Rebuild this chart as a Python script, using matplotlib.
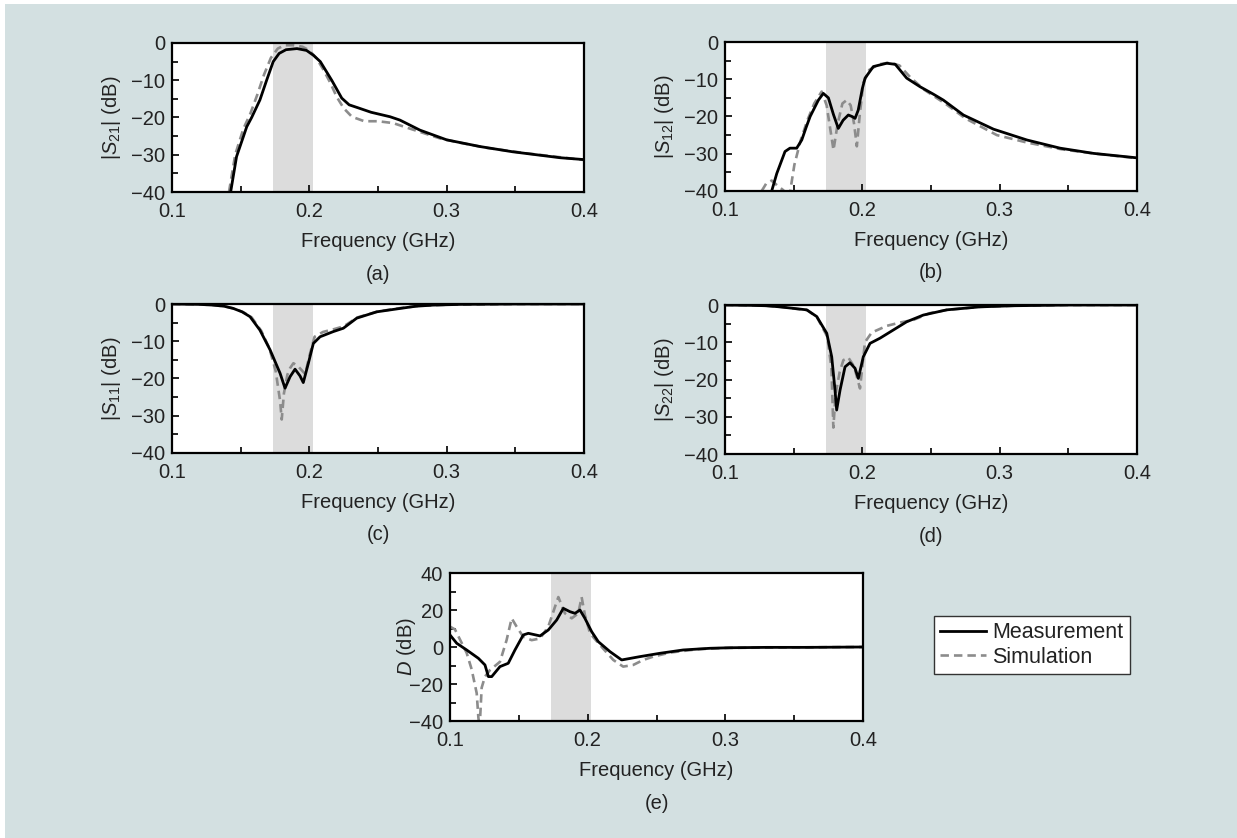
import matplotlib
matplotlib.use("Agg")
import matplotlib.pyplot as plt
from matplotlib.patches import Rectangle

plt.rcParams.update({
    "font.family": ["Liberation Sans", "DejaVu Sans"],
    "mathtext.fontset": "custom",
    "mathtext.rm": "Liberation Sans",
    "mathtext.it": "Liberation Sans:italic",
    "font.size": 14.5,
    "text.color": "#222222",
    "axes.labelcolor": "#222222",
    "xtick.color": "#111111",
    "ytick.color": "#111111",
    "xtick.labelcolor": "#222222",
    "ytick.labelcolor": "#222222",
})

# ---------------- data ----------------
passband = (0.1735, 0.2025)

s21_meas_f = [0.1427, 0.147, 0.1544, 0.158, 0.164, 0.169, 0.1737, 0.178, 0.183, 0.191, 0.198, 0.203,
              0.208, 0.2163, 0.2236, 0.229, 0.2355, 0.245, 0.2588, 0.266, 0.2806, 0.300, 0.3243,
              0.348, 0.3826, 0.4]
s21_meas_db = [-40, -30.5, -22.5, -20, -15.3, -9.9, -5, -2.8, -1.8, -1.5, -2, -3.3,
               -5, -10, -14.8, -16.6, -17.4, -18.6, -19.8, -20.7, -23.4, -26, -27.8,
               -29.2, -30.8, -31.3]
s21_sim_f = [0.1415, 0.146, 0.152, 0.157, 0.162, 0.167, 0.172, 0.177, 0.182, 0.188, 0.195, 0.2,
             0.205, 0.21, 0.215, 0.22, 0.225, 0.231, 0.24, 0.25, 0.261, 0.275, 0.295, 0.31, 0.33,
             0.36, 0.4]
s21_sim_db = [-40, -30, -23, -19, -14, -8.5, -4, -1.5, -0.6, -0.6, -1.0, -2,
              -4, -7, -10.5, -14.5, -17.5, -19.8, -21, -21, -21.5, -23.2, -25.6, -26.8, -28.2,
              -29.7, -31.4]

s12_meas_f = [0.134, 0.1377, 0.1437, 0.1473, 0.1522, 0.1559, 0.159, 0.162, 0.168, 0.1716, 0.1753,
              0.179, 0.1825, 0.186, 0.1898, 0.1925, 0.1947, 0.197, 0.2, 0.202, 0.208, 0.2178,
              0.224, 0.2323, 0.242, 0.2517, 0.259, 0.2736, 0.2955, 0.3198, 0.344, 0.3683, 0.4]
s12_meas_db = [-40, -35.3, -29.4, -28.5, -28.5, -26.3, -23, -20, -15.6, -13.8, -15,
               -19.5, -23.2, -21, -19.6, -20, -20.5, -18.3, -12.5, -9.7, -6.6, -5.7,
               -6, -9.7, -12, -14, -15.6, -19.6, -23.4, -26.3, -28.5, -29.9, -31.1]
s12_sim_f = [0.1267, 0.130, 0.134, 0.138, 0.1425, 0.146, 0.1475, 0.1505, 0.155, 0.160, 0.165,
             0.1704, 0.174, 0.1765, 0.179, 0.182, 0.1855, 0.1886, 0.1915, 0.194, 0.196, 0.198,
             0.2007, 0.205, 0.212, 0.22, 0.227, 0.235, 0.245, 0.2614, 0.275, 0.298, 0.32, 0.345,
             0.37, 0.4]
s12_sim_db = [-40, -38, -37.2, -38.5, -39.8, -42, -40, -33, -26.5, -21, -16.5,
              -13.3, -17, -23, -29, -22, -16.5, -15.6, -17, -22, -28, -20,
              -11, -7.5, -6, -5.5, -6.3, -9.5, -12.8, -16.8, -20.5, -25, -27, -28.8,
              -30, -31.2]

s11_meas_f = [0.1, 0.12, 0.13, 0.138, 0.1447, 0.151, 0.1568, 0.164, 0.1714, 0.1787, 0.1823, 0.186,
              0.1896, 0.1932, 0.1956, 0.1993, 0.2029, 0.2078, 0.2175, 0.2248, 0.2345, 0.2491,
              0.266, 0.2775, 0.29, 0.31, 0.35, 0.4]
s11_meas_db = [0, -0.1, -0.3, -0.6, -1.2, -2.1, -3.4, -7, -12.3, -18.6, -22.6, -19.5,
               -17.5, -19.3, -21.1, -15.9, -10.6, -8.8, -7.4, -6.5, -3.8, -2.1,
               -1.2, -0.6, -0.3, -0.1, 0, 0]
s11_sim_f = [0.1, 0.12, 0.13, 0.138, 0.145, 0.152, 0.158, 0.165, 0.171, 0.1755, 0.1787, 0.1799,
             0.1815, 0.184, 0.186, 0.1884, 0.192, 0.197, 0.2, 0.2038, 0.21, 0.2175, 0.225, 0.235,
             0.25, 0.266, 0.28, 0.3, 0.35, 0.4]
s11_sim_db = [0, -0.1, -0.3, -0.6, -1.2, -2.2, -3.6, -7.2, -12, -18, -26, -31,
              -24, -19, -17.2, -15.9, -16.8, -18.8, -14, -8.8, -7.5, -6.8, -6, -3.6,
              -2, -1.1, -0.5, -0.2, 0, 0]

s22_meas_f = [0.1, 0.12, 0.13, 0.14, 0.1595, 0.1668, 0.1741, 0.1777, 0.1801, 0.1813, 0.1838, 0.1874,
              0.191, 0.1947, 0.1971, 0.2007, 0.2056, 0.2129, 0.2226, 0.2323, 0.2444, 0.2615,
              0.2857, 0.31, 0.35, 0.4]
s22_meas_db = [0, -0.1, -0.2, -0.5, -1.3, -3.1, -7.6, -13.9, -22.8, -28.2, -22.8, -16.6,
               -15.5, -17, -19.7, -13.9, -10.3, -8.9, -6.7, -4.5, -2.7, -1.3,
               -0.5, -0.2, 0, 0]
s22_sim_f = [0.1, 0.12, 0.13, 0.14, 0.16, 0.167, 0.1745, 0.1775, 0.1789, 0.1805, 0.1835, 0.1862,
             0.1898, 0.194, 0.1983, 0.2019, 0.2068, 0.2178, 0.2275, 0.2372, 0.249, 0.262, 0.285,
             0.31, 0.35, 0.4]
s22_sim_db = [0, -0.1, -0.2, -0.5, -1.4, -3.3, -8.5, -17, -32.9, -24, -18, -14.8,
              -14.1, -16.5, -22.4, -10, -7.4, -5.6, -4.7, -4, -2.2, -1.3, -0.5,
              -0.2, 0, 0]

d_meas_f = [0.1, 0.1049, 0.1121, 0.1206, 0.1254, 0.1279, 0.1303, 0.1363, 0.1423, 0.1472, 0.1532,
            0.1569, 0.1654, 0.1714, 0.1775, 0.1823, 0.1871, 0.1908, 0.1944, 0.198, 0.2029,
            0.2077, 0.2162, 0.2247, 0.238, 0.2525, 0.2694, 0.2888, 0.3033, 0.33, 0.36, 0.4]
d_meas_db = [6.5, 2, -1.6, -6.1, -9.7, -16, -16, -10.6, -8.8, -1.6, 6.5,
             7.4, 6, 9.2, 14.6, 20.9, 19.1, 18.2, 20, 15.5, 8.3,
             2.9, -2.5, -7, -5.2, -3.4, -1.6, -0.7, -0.4, -0.2, -0.2, 0]
d_sim_f = [0.1, 0.1036, 0.1121, 0.1157, 0.1194, 0.1206, 0.1215, 0.123, 0.1254, 0.129, 0.1363,
           0.1411, 0.1448, 0.1484, 0.1532, 0.1593, 0.1654, 0.1714, 0.1763, 0.1787, 0.1835,
           0.1884, 0.1932, 0.1956, 0.198, 0.2017, 0.2089, 0.2186, 0.2258, 0.2331, 0.2404,
           0.2476, 0.26, 0.28, 0.3, 0.35, 0.4]
d_sim_db = [11, 9.5, -3.2, -12, -25, -38, -44, -22, -16, -12.5, -8,
            3.7, 15.5, 11, 5.5, 3.7, 4.6, 11, 21.8, 27, 18.2,
            15.5, 18.2, 27, 17.3, 7.4, 1.1, -7, -10.6, -9.7, -7,
            -5.2, -3, -1.2, -0.5, -0.2, 0]

x_ticks = [0.1, 0.2, 0.3, 0.4]
x_tick_labels = ["0.1", "0.2", "0.3", "0.4"]

# ---------------- figure ----------------
W, H = 1237, 838
fig = plt.figure(figsize=(W / 100, H / 100), dpi=100)
fig.patch.set_facecolor("white")
fig.add_artist(Rectangle((5 / W, 0), 1 - 5 / W, 1 - 4 / H, transform=fig.transFigure,
                         facecolor="#d3e0e1", edgecolor="none", zorder=-10))

MEAS = dict(color="black", lw=2.0, solid_joinstyle="round", zorder=3)
SIM = dict(color="#8c8c8c", lw=1.9, linestyle=(0, (3.2, 1.9)), zorder=2)


def px_axes(left, bottom_px, width, height):
    return fig.add_axes([left / W, 1 - bottom_px / H, width / W, height / H])


def style(ax, ylim, yticks, ylabel, tag):
    ax.set_xlim(0.1, 0.4)
    ax.set_ylim(*ylim)
    ax.set_xticks(x_ticks)
    ax.set_xticklabels(x_tick_labels)
    ax.set_xticks([0.15, 0.25, 0.35], minor=True)
    ax.set_yticks(yticks)
    step = yticks[1] - yticks[0]
    ax.set_yticks([v + step / 2 for v in yticks[:-1]], minor=True)
    ax.tick_params(which="both", direction="in", top=False, right=False, width=1.3,
                   labelsize=14.5)
    ax.tick_params(which="major", length=5)
    ax.tick_params(axis="x", which="major", pad=7)
    ax.tick_params(axis="y", which="major", pad=5)
    ax.tick_params(which="minor", length=4)
    for s in ax.spines.values():
        s.set_linewidth(1.6)
    ax.set_xlabel("Frequency (GHz)", fontsize=14.5, labelpad=8)
    ax.set_ylabel(ylabel, fontsize=14.5, labelpad=6)
    ax.axvspan(*passband, color="#dcdcdc", lw=0, zorder=0)
    ax.annotate(tag, xy=(0.5, 0), xycoords="axes fraction", xytext=(0, -82),
                textcoords="offset pixels", ha="center", va="center", fontsize=14.5)


ax_a = px_axes(172, 192, 412, 149)
ax_a.plot(s21_sim_f, s21_sim_db, **SIM)
ax_a.plot(s21_meas_f, s21_meas_db, **MEAS)
style(ax_a, (-40, 0), [-40, -30, -20, -10, 0], r"|$S_{21}$| (dB)", "(a)")

ax_b = px_axes(725, 191, 412, 149)
ax_b.plot(s12_sim_f, s12_sim_db, **SIM)
ax_b.plot(s12_meas_f, s12_meas_db, **MEAS)
style(ax_b, (-40, 0), [-40, -30, -20, -10, 0], r"|$S_{12}$| (dB)", "(b)")

ax_c = px_axes(172, 453, 412, 149)
ax_c.plot(s11_sim_f, s11_sim_db, **SIM)
ax_c.plot(s11_meas_f, s11_meas_db, **MEAS)
style(ax_c, (-40, 0), [-40, -30, -20, -10, 0], r"|$S_{11}$| (dB)", "(c)")

ax_d = px_axes(725, 454, 412, 149)
ax_d.plot(s22_sim_f, s22_sim_db, **SIM)
ax_d.plot(s22_meas_f, s22_meas_db, **MEAS)
style(ax_d, (-40, 0), [-40, -30, -20, -10, 0], r"|$S_{22}$| (dB)", "(d)")

ax_e = px_axes(450, 721, 413, 148)
sim_line, = ax_e.plot(d_sim_f, d_sim_db, **SIM)
meas_line, = ax_e.plot(d_meas_f, d_meas_db, **MEAS)
style(ax_e, (-40, 40), [-40, -20, 0, 20, 40], r"$D$ (dB)", "(e)")
# the short "0"/"20" labels leave room to tuck the y label in closer
ax_e.yaxis.set_label_coords(-0.078, 0.5)

leg = fig.legend([meas_line, sim_line], ["Measurement", "Simulation"],
                 loc="center", bbox_to_anchor=(1031.7 / W, 1 - 645 / H),
                 fontsize=15.5, frameon=True, fancybox=False, framealpha=1,
                 handlelength=2.1, handletextpad=0.3, labelspacing=0.15,
                 borderpad=0.3, borderaxespad=0)
leg.get_frame().set_edgecolor("#333333")
leg.get_frame().set_linewidth(1.0)
leg.get_frame().set_facecolor("white")

fig.savefig("out.png", dpi=100)
